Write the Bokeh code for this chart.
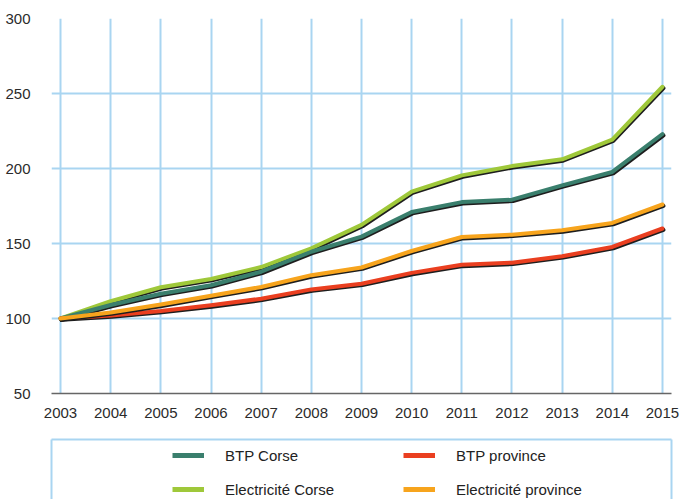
from bokeh.plotting import figure
from bokeh.models import Range1d, FixedTicker, LinearAxis, Legend, LegendItem, ColumnDataSource
from bokeh.layouts import column
from bokeh.transform import dodge
from bokeh.embed import file_html
from bokeh.resources import INLINE

years = [2003, 2004, 2005, 2006, 2007, 2008, 2009, 2010, 2011, 2012, 2013, 2014, 2015]
btp_corse = [100, 109, 116.5, 122.2, 131.2, 144.5, 154.6, 171, 177.6, 179.2, 188.8, 197.7, 223]
elec_corse = [100, 111.5, 120.8, 126.3, 134.3, 146.8, 162.4, 184.6, 195.4, 201.6, 206.1, 219.3, 254.5]
btp_prov = [100, 102, 105, 108.8, 113.2, 119.4, 123.2, 130.4, 135.8, 137.2, 141.5, 147.7, 160]
elec_prov = [100, 104, 109.3, 115.2, 121, 128.9, 134, 145, 154.3, 155.9, 158.8, 163.7, 176]
y_ticks = [50, 100, 150, 200, 250, 300]

names = ["BTP Corse", "Electricité Corse", "BTP province", "Electricité province"]
colors = {"BTP Corse": "#3a7f6d", "BTP province": "#ea3f20",
          "Electricité Corse": "#9fc83a", "Electricité province": "#f7a41d"}
series = {"BTP Corse": btp_corse, "BTP province": btp_prov,
          "Electricité Corse": elec_corse, "Electricité province": elec_prov}

GRID = "#a9d5f1"
FONT = "Liberation Sans"

p = figure(width=700, height=430, output_backend="svg", toolbar_location=None,
           x_range=Range1d(2002.82, 2015.18), y_range=Range1d(50, 300),
           min_border_left=48, min_border_right=23, min_border_top=18, min_border_bottom=37)
p.outline_line_color = None
p.background_fill_color = "white"

p.xaxis.ticker = FixedTicker(ticks=years)
p.yaxis.ticker = FixedTicker(ticks=y_ticks)
p.xgrid.grid_line_color = GRID
p.ygrid.grid_line_color = GRID
p.xgrid.grid_line_width = 2
p.ygrid.grid_line_width = 2

p.xaxis.axis_line_color = "#666666"
p.xaxis.axis_line_width = 1.5
p.xaxis.major_tick_line_color = None
p.xaxis.minor_tick_line_color = None
p.xaxis.major_label_standoff = 8
p.yaxis.axis_line_color = None
p.yaxis.major_tick_line_color = None
p.yaxis.minor_tick_line_color = None
p.yaxis.major_label_standoff = 15
for ax in (p.xaxis, p.yaxis):
    ax.major_label_text_font = FONT
    ax.major_label_text_font_size = "15px"
    ax.major_label_text_color = "#2b2b2b"

draw_order = ["Electricité Corse", "BTP Corse", "BTP province", "Electricité province"]
for name in draw_order:
    src = ColumnDataSource(dict(x=years, y=series[name]))
    p.line(x=dodge("x", 0.02, range=p.x_range), y=dodge("y", -0.9, range=p.y_range), source=src,
           line_color="#1e1e1e", line_width=4, line_cap="round", line_join="round")
    p.line(x="x", y="y", source=src, line_color=colors[name], line_width=4,
           line_cap="round", line_join="round")

# legend panel (its own frame gives the light-blue box)
q = figure(width=700, height=69, output_backend="svg", toolbar_location=None,
           x_range=Range1d(0, 1), y_range=Range1d(0, 1),
           x_axis_location=None, y_axis_location=None,
           min_border_left=51, min_border_right=29, min_border_top=9, min_border_bottom=0)
q.outline_line_color = None
q.xgrid.visible = False
q.ygrid.visible = False
for side in ("left", "right", "above"):
    ax = LinearAxis(ticker=FixedTicker(ticks=[]), axis_line_color=GRID, axis_line_width=2,
                    major_tick_line_color=None, minor_tick_line_color=None,
                    major_tick_out=0, major_tick_in=0, major_label_standoff=0,
                    major_label_text_font_size="0px")
    q.add_layout(ax, side)

items = []
for name in names:
    # same series, outside this panel's ranges: only its legend swatch shows
    r = q.line(x=years, y=series[name], line_color=colors[name], line_width=5)
    items.append(LegendItem(label=name, renderers=[r]))

leg = Legend(items=items, ncols=2, location=(121, 0), padding=0, margin=0,
             spacing=14, glyph_width=32, glyph_height=20, label_height=20,
             label_width=164, label_standoff=21,
             label_text_font=FONT, label_text_font_size="15px", label_text_color="#222222",
             border_line_color=None, background_fill_alpha=0)
q.add_layout(leg, "center")

layout = column(p, q, spacing=0)
open("out.html", "w").write(file_html(layout, INLINE))
